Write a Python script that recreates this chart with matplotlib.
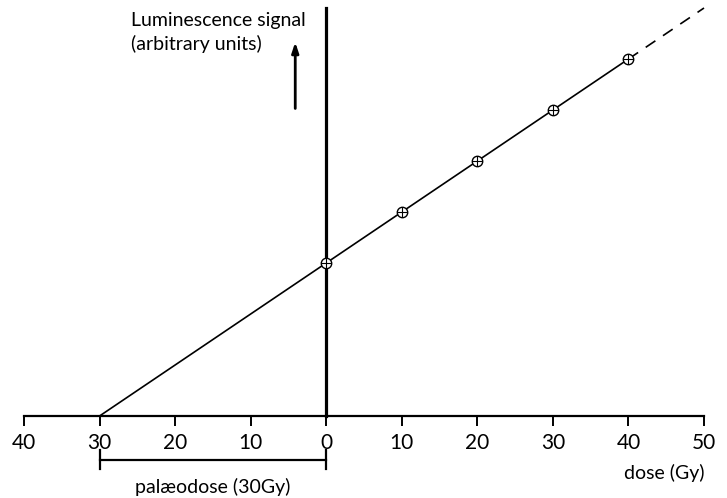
import matplotlib
matplotlib.use("Agg")
import matplotlib.pyplot as plt

# Data
doses = [0, 10, 20, 30, 40]
signal = [30, 40, 50, 60, 70]
fit_solid_x = [-30, 40]
fit_solid_y = [0, 70]
fit_dash_x = [40, 50]
fit_dash_y = [70, 80]
tick_pos = [-40, -30, -20, -10, 0, 10, 20, 30, 40, 50]
tick_labels = ["40", "30", "20", "10", "0", "10", "20", "30", "40", "50"]
palaeodose = 30

plt.rcParams['font.family'] = ['Lato', 'DejaVu Sans']

W, H = 727, 498
fig = plt.figure(figsize=(W/100, H/100), dpi=100)
ax = fig.add_axes([24/W, (H-416)/H, 680/W, 408/H])
ax.set_xlim(-40, 50)
ax.set_ylim(0, 80)

for s in ['top', 'right']:
    ax.spines[s].set_visible(False)
ax.spines['bottom'].set_linewidth(1.6)
ax.spines['left'].set_position(('data', 0))
ax.spines['left'].set_linewidth(2.3)
ax.set_yticks([])
ax.set_xticks(tick_pos)
ax.set_xticklabels(tick_labels, fontsize=15)
ax.tick_params(axis='x', direction='out', length=7, width=1.4, pad=5)

# fit line
ax.plot(fit_solid_x, fit_solid_y, color='black', lw=1.2, solid_capstyle='butt', zorder=3)
ax.plot(fit_dash_x, fit_dash_y, color='black', lw=1.2, dashes=(7, 5.5), clip_on=False, zorder=3)

# data points: circle with cross
ax.plot(doses, signal, linestyle='none', marker='o', ms=7.5, mfc='white', mec='black', mew=1.0, zorder=4, clip_on=False)
ax.plot(doses, signal, linestyle='none', marker='+', ms=7, color='black', mew=0.8, zorder=5, clip_on=False)

# up arrow
ax.annotate('', xy=(-4.1, 73.3), xytext=(-4.1, 60.3),
            arrowprops=dict(arrowstyle='-|>,head_length=0.6,head_width=0.2', color='black', lw=2.0, shrinkA=0, shrinkB=0))

ax.text(-25.9, 75.2, 'Luminescence signal\n(arbitrary units)', fontsize=14,
        ha='left', va='center', linespacing=1.4)

# palaeodose bracket
ybar = -8.6
ax.plot([-palaeodose, 0], [ybar, ybar], color='black', lw=1.6, clip_on=False)
ax.plot([-palaeodose, -palaeodose], [-6.7, -10.3], color='black', lw=1.6, clip_on=False)
ax.plot([0, 0], [-6.7, -10.3], color='black', lw=1.6, clip_on=False)
ax.text(-15, -13.9, 'palæodose (30Gy)', fontsize=14, ha='center', va='center')

ax.text(50, -11.1, 'dose (Gy)', fontsize=14, ha='right', va='center')

fig.savefig('out.png', dpi=100)
